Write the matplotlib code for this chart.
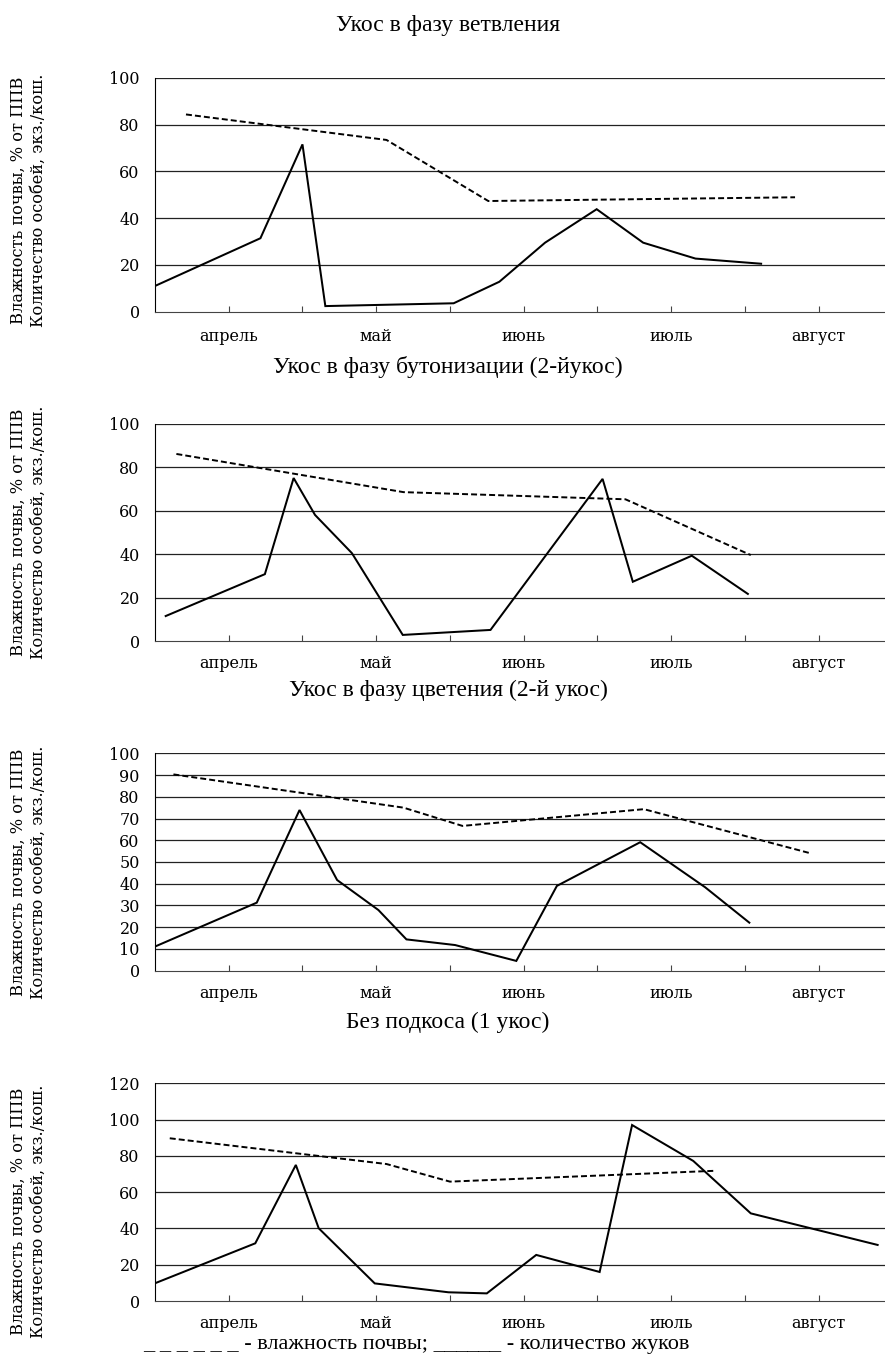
import matplotlib
matplotlib.use("Agg")
import matplotlib.pyplot as plt

# Data (x in tick units, 0 = left edge of the axis, month labels at 1,3,5,7,9)
titles = ["Укос в фазу ветвления",
          "Укос в фазу бутонизации (2-йукос)",
          "Укос в фазу цветения (2-й укос)",
          "Без подкоса (1 укос)"]
months = ["апрель", "май", "июнь", "июль", "август"]
month_pos = [1, 3, 5, 7, 9]

count_x1 = [0, 1.43, 2.0, 2.31, 4.05, 4.67, 5.29, 5.99, 6.62, 7.33, 8.22]
count_y1 = [11, 31.4, 71.5, 2.4, 3.6, 12.8, 29.5, 43.8, 29.5, 22.7, 20.5]
moist_x1 = [0.42, 3.14, 4.52, 8.68]
moist_y1 = [84.3, 73.4, 47.3, 48.9]

count_x2 = [0.145, 1.49, 1.88, 2.17, 2.67, 3.36, 4.55, 6.07, 6.48, 7.28, 8.04]
count_y2 = [11.5, 30.8, 75.1, 58.1, 40.5, 2.8, 5.1, 74.7, 27.3, 39.3, 21.7]
moist_x2 = [0.29, 3.37, 6.38, 8.08]
moist_y2 = [86.2, 68.6, 65.3, 39.6]

count_x3 = [0.02, 1.38, 1.96, 2.47, 3.03, 3.41, 4.07, 4.90, 5.45, 6.58, 7.46, 8.06]
count_y3 = [11.4, 31.3, 73.9, 41.7, 27.9, 14.4, 11.8, 4.5, 39.0, 59.1, 38.4, 22.1]
moist_x3 = [0.25, 3.37, 4.17, 6.63, 8.89]
moist_y3 = [90.3, 75.0, 66.6, 74.3, 54.0]

count_x4 = [0.02, 1.36, 1.91, 2.22, 2.98, 3.98, 4.50, 5.17, 6.03, 6.47, 7.30, 8.08, 9.80]
count_y4 = [10.1, 31.8, 75.0, 40.1, 9.7, 4.8, 4.2, 25.4, 16.0, 97.0, 77.2, 48.3, 30.9]
moist_x4 = [0.20, 3.14, 4.0, 7.61]
moist_y4 = [89.7, 75.5, 65.8, 71.8]

y_ticks = [list(range(0, 101, 20)), list(range(0, 101, 20)),
           list(range(0, 101, 10)), list(range(0, 121, 20))]

W, H = 885, 1367
fig = plt.figure(figsize=(W / 100, H / 100), dpi=100)
plt.rcParams['lines.scale_dashes'] = False

# axes boxes in pixels: top, bottom
boxes = [(77.7, 311.7), (424, 641), (753.3, 970.7), (1083.3, 1301)]
title_y = [25, 367, 690, 1022]
ylab_y = [200, 532, 872, 1211]
left = 155

series = [(count_x1, count_y1, moist_x1, moist_y1),
          (count_x2, count_y2, moist_x2, moist_y2),
          (count_x3, count_y3, moist_x3, moist_y3),
          (count_x4, count_y4, moist_x4, moist_y4)]

for i, (top, bot) in enumerate(boxes):
    ax = fig.add_axes([left / W, 1 - bot / H, (W - left) / W, (bot - top) / H])
    cx, cy, mx, my = series[i]
    ax.plot(cx, cy, color='black', lw=1.45, solid_joinstyle='miter')
    ax.plot(mx, my, color='black', lw=1.4, dashes=(4.3, 2.2))
    ax.set_xlim(0, 9.9)
    ax.set_ylim(0, y_ticks[i][-1])
    ax.set_yticks(y_ticks[i])
    for v in y_ticks[i][1:]:
        ax.axhline(v, color='#222222', lw=0.9, zorder=0)
    ax.set_xticks(range(1, 10))
    ax.set_xticklabels(["" for _ in range(1, 10)])
    for p, m in zip(month_pos, months):
        ax.text(p, -0.105, m, transform=ax.get_xaxis_transform(), ha='center',
                va='center', family='DejaVu Serif', fontsize=11.5)
    ax.tick_params(axis='x', direction='in', length=4, color='#444444')
    ax.tick_params(axis='y', length=0, pad=11, labelsize=11.5)
    for lab in ax.get_yticklabels():
        lab.set_family('DejaVu Serif')
    for s in ['top', 'right']:
        ax.spines[s].set_visible(False)
    ax.spines['left'].set_color('black')
    ax.spines['bottom'].set_color('#444444')
    fig.text(448 / W, 1 - title_y[i] / H, titles[i], ha='center', va='center',
             family='Liberation Serif', fontsize=17)
    fig.text(18 / W, 1 - ylab_y[i] / H, "Влажность почвы, % от ППВ", rotation=90,
             ha='center', va='center', family='DejaVu Serif', fontsize=11.7)
    fig.text(38 / W, 1 - ylab_y[i] / H, "Количество особей, экз./кош.", rotation=90,
             ha='center', va='center', family='DejaVu Serif', fontsize=11.7)

fig.text(143 / W, 1 - 1345 / H, "_ _ _ _ _ _ - влажность почвы; ______ - количество жуков",
         ha='left', va='center', family='Liberation Serif', fontsize=16)

fig.savefig("out.png", dpi=100)
